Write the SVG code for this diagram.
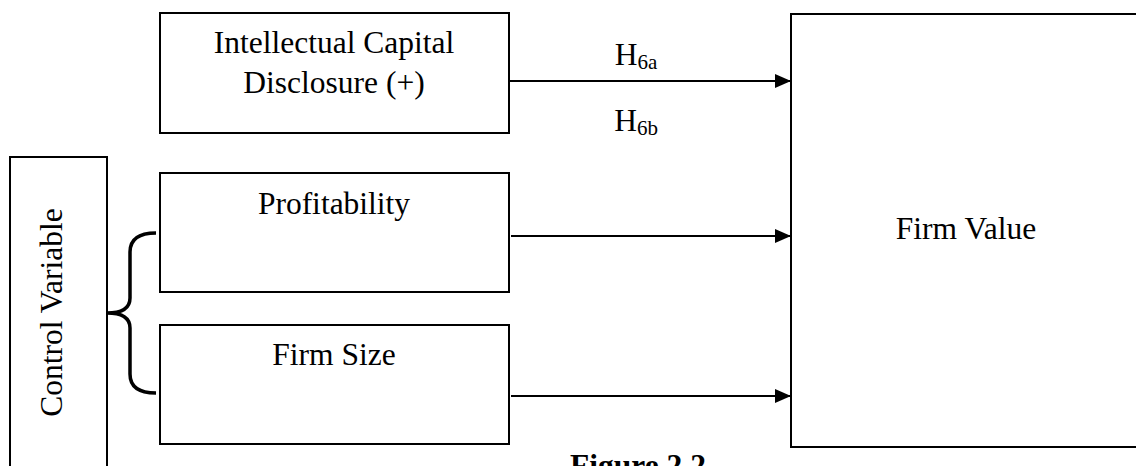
<svg xmlns="http://www.w3.org/2000/svg" width="1136" height="466" viewBox="0 0 1136 466">
<style>
.box{fill:#fff;stroke:#000;stroke-width:2}
.t{font-family:"Liberation Serif","Times New Roman",serif;font-size:31.5px;fill:#000;text-anchor:middle}
.sub{font-size:21px}
.edge{stroke:#000;stroke-width:2;fill:none}
</style>
<defs>
<marker id="arr" markerWidth="16" markerHeight="14" refX="16" refY="7" orient="auto" markerUnits="userSpaceOnUse">
<path d="M0,0 L16,7 L0,14 Z" fill="#000"/>
</marker>
</defs>
<g id="icd">
<rect class="box" x="160" y="13" width="349" height="120"/>
<text class="t" x="334" y="53">Intellectual Capital</text>
<text class="t" x="334" y="93">Disclosure (+)</text>
</g>
<g id="profitability">
<rect class="box" x="160" y="173" width="349" height="119"/>
<text class="t" x="334" y="214">Profitability</text>
</g>
<g id="firmsize">
<rect class="box" x="160" y="325" width="349" height="119"/>
<text class="t" x="334" y="365">Firm Size</text>
</g>
<g id="control">
<rect class="box" x="10" y="157" width="97" height="330"/>
<text class="t" transform="translate(62,312.5) rotate(-90)" x="0" y="0">Control Variable</text>
</g>
<g id="firmvalue">
<rect class="box" x="791" y="14" width="352" height="433"/>
<text class="t" x="966" y="239">Firm Value</text>
</g>
<g id="connectors">
<path class="edge" d="M509,81 H791" marker-end="url(#arr)"/>
<path class="edge" d="M511,236 H791" marker-end="url(#arr)"/>
<path class="edge" d="M511,396 H791" marker-end="url(#arr)"/>
<path d="M156,233 Q130,233 130,252 L130,298 Q130,313 107,313 Q130,313 130,328 L130,374 Q130,393 156,393" fill="none" stroke="#000" stroke-width="3.5"/>
</g>
<g id="labels">
<text class="t" x="636" y="65">H<tspan class="sub" dy="3.5">6a</tspan></text>
<text class="t" x="636" y="131">H<tspan class="sub" dy="3.5">6b</tspan></text>
</g>
<text class="t" x="638" y="476" font-weight="bold">Figure 2.2</text>
</svg>
